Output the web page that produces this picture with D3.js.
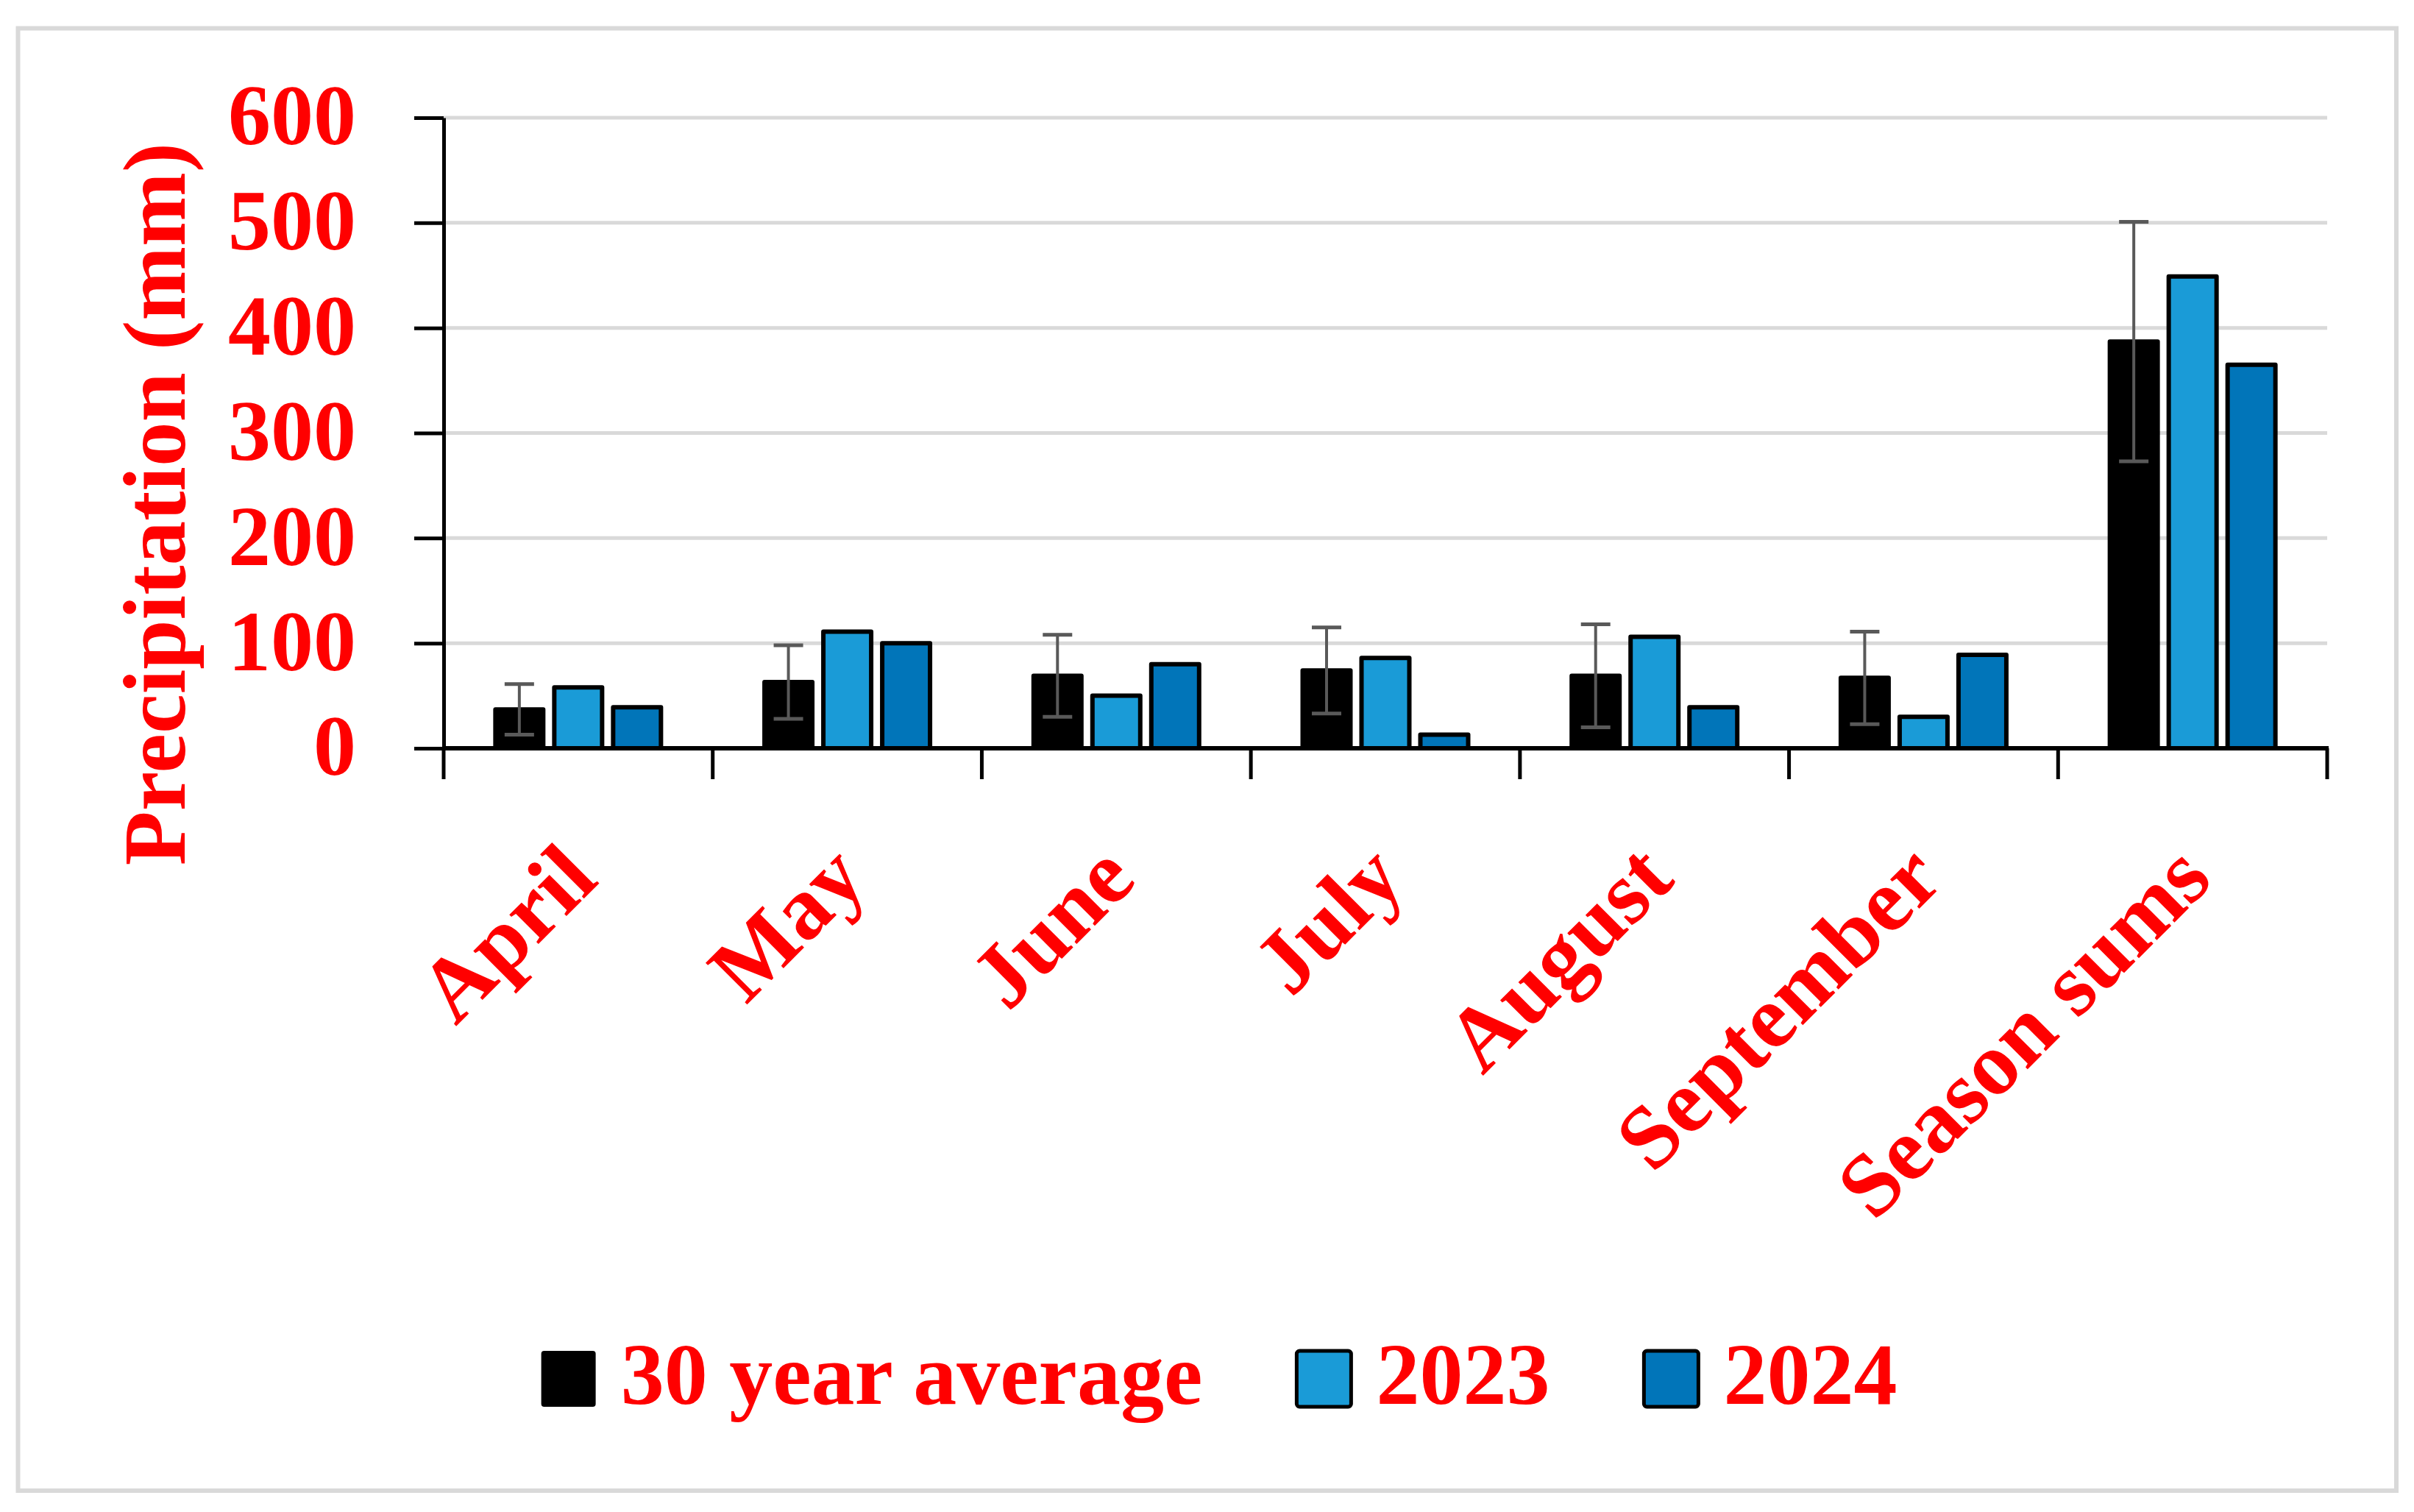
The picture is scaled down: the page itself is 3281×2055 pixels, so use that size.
<!DOCTYPE html>
<html>
<head>
<meta charset="utf-8">
<script src="https://cdn.jsdelivr.net/npm/d3@7"></script>
<style>
  html, body { margin: 0; padding: 0; background: #ffffff; }
  svg { display: block; }
  text { font-family: "Liberation Serif", "Times New Roman", serif; font-weight: bold; fill: #ff0000; }
</style>
</head>
<body>
<script>
// ---- data ----
const categories = ["April", "May", "June", "July", "August", "September", "Season sums"];
const seriesNames = ["30 year average", "2023", "2024"];
const avg30 = [37, 63, 69, 74, 69, 67, 387];
const avg30Err = [24, 35, 39, 41, 49, 44, 114];
const y2023 = [58, 111, 50, 86, 106, 30, 449];
const y2024 = [39, 100, 80, 13, 39, 89, 365];
const yTicks = [0, 100, 200, 300, 400, 500, 600];
const seriesColors = ["#000000", "#1a9bd7", "#0175b9"];

const W = 3281, H = 2055;
const svg = d3.select("body").append("svg").attr("width", W).attr("height", H);

// outer border
svg.append("rect").attr("x", 24.5).attr("y", 38.5).attr("width", 3257 - 24.5).attr("height", 2026 - 38.5)
  .attr("fill", "#ffffff").attr("stroke", "#d9d9d9").attr("stroke-width", 6);

const plotL = 603, plotR = 3163, plotT = 160, plotB = 1017;
const x0 = d3.scaleBand().domain(categories).range([plotL, plotR]).padding(0);
const x1 = d3.scaleBand().domain(seriesNames).range([0, 225]).paddingInner(0.1875).paddingOuter(0);
const y = d3.scaleLinear().domain([0, 600]).range([plotB, plotT]);

// gridlines
svg.append("g").selectAll("line").data(yTicks.filter(d => d > 0)).join("line")
  .attr("x1", plotL).attr("x2", plotR)
  .attr("y1", d => y(d)).attr("y2", d => y(d))
  .attr("stroke", "#d9d9d9").attr("stroke-width", 5);

// bars
const rows = categories.map((c, i) => ({
  cat: c,
  vals: [
    { s: seriesNames[0], v: avg30[i], e: avg30Err[i], c: seriesColors[0] },
    { s: seriesNames[1], v: y2023[i], e: null, c: seriesColors[1] },
    { s: seriesNames[2], v: y2024[i], e: null, c: seriesColors[2] }
  ]
}));
const groupOff = (x0.bandwidth() - 225) / 2;
const groups = svg.append("g").selectAll("g").data(rows).join("g")
  .attr("transform", d => `translate(${x0(d.cat) + groupOff},0)`);
groups.selectAll("rect").data(d => d.vals).join("rect")
  .attr("x", d => x1(d.s)).attr("width", x1.bandwidth())
  .attr("y", d => y(d.v)).attr("height", d => y(0) - y(d.v))
  .attr("fill", d => d.c).attr("stroke", "#000000").attr("stroke-width", 6)
  .attr("stroke-linejoin", "round");

// error bars
const eb = groups.selectAll("g.err").data(d => d.vals.filter(v => v.e !== null)).join("g").attr("class", "err");
eb.append("line")
  .attr("x1", d => x1(d.s) + x1.bandwidth() / 2).attr("x2", d => x1(d.s) + x1.bandwidth() / 2)
  .attr("y1", d => y(d.v + d.e)).attr("y2", d => y(d.v - d.e))
  .attr("stroke", "#595959").attr("stroke-width", 4);
eb.selectAll("line.cap").data(d => [d.v + d.e, d.v - d.e].map(t => ({ t, d }))).join("line").attr("class", "cap")
  .attr("x1", o => x1(o.d.s) + x1.bandwidth() / 2 - 20).attr("x2", o => x1(o.d.s) + x1.bandwidth() / 2 + 20)
  .attr("y1", o => y(o.t)).attr("y2", o => y(o.t))
  .attr("stroke", "#595959").attr("stroke-width", 5);

// y axis
const yAxis = svg.append("g").attr("transform", `translate(${plotL},0)`)
  .call(d3.axisLeft(y).tickValues(yTicks).tickSize(40).tickSizeOuter(0).tickPadding(79));
yAxis.select(".domain").attr("stroke", "#000").attr("stroke-width", 5);
yAxis.selectAll(".tick line").attr("stroke", "#000").attr("stroke-width", 5);
yAxis.selectAll(".tick text").attr("font-size", 116).attr("fill", "#ff0000")
  .attr("font-family", "Liberation Serif").attr("font-weight", "bold").attr("dy", "0.31em");

// x axis line and boundary ticks
const bounds = categories.map(c => x0(c)).concat([plotR]);
svg.append("g").selectAll("line").data(bounds).join("line")
  .attr("x1", d => d).attr("x2", d => d).attr("y1", plotB).attr("y2", plotB + 42)
  .attr("stroke", "#000").attr("stroke-width", 5);
svg.append("line").attr("x1", plotL - 2).attr("x2", plotR + 2).attr("y1", plotB).attr("y2", plotB)
  .attr("stroke", "#000").attr("stroke-width", 6);

// x labels
svg.append("g").selectAll("text").data(categories).join("text")
  .attr("transform", d => `translate(${x0(d) + x0.bandwidth() / 2 + 30},${plotB + 182}) rotate(-45)`)
  .attr("text-anchor", "end").attr("font-size", 122)
  .text(d => d);

// y title
svg.append("text").attr("transform", "translate(251,685) rotate(-90)")
  .attr("text-anchor", "middle").attr("font-size", 121).text("Precipitation (mm)");

// legend
const leg = svg.append("g");
let lx = 0;
seriesNames.forEach((s, i) => {
  const g = leg.append("g");
  g.append("rect").attr("x", lx).attr("y", 1836).attr("width", 74).attr("height", 76)
    .attr("rx", 4).attr("fill", seriesColors[i]).attr("stroke", "#000").attr("stroke-width", i === 0 ? 0 : 5);
  const t = g.append("text").attr("x", lx + 108).attr("y", 1908).attr("font-size", 118).text(s);
  const tw = t.node().getComputedTextLength();
  lx = lx + 108 + tw + 128;
});
const total = lx - 128;
leg.attr("transform", `translate(${1657 - total / 2},0)`);
</script>
</body>
</html>
